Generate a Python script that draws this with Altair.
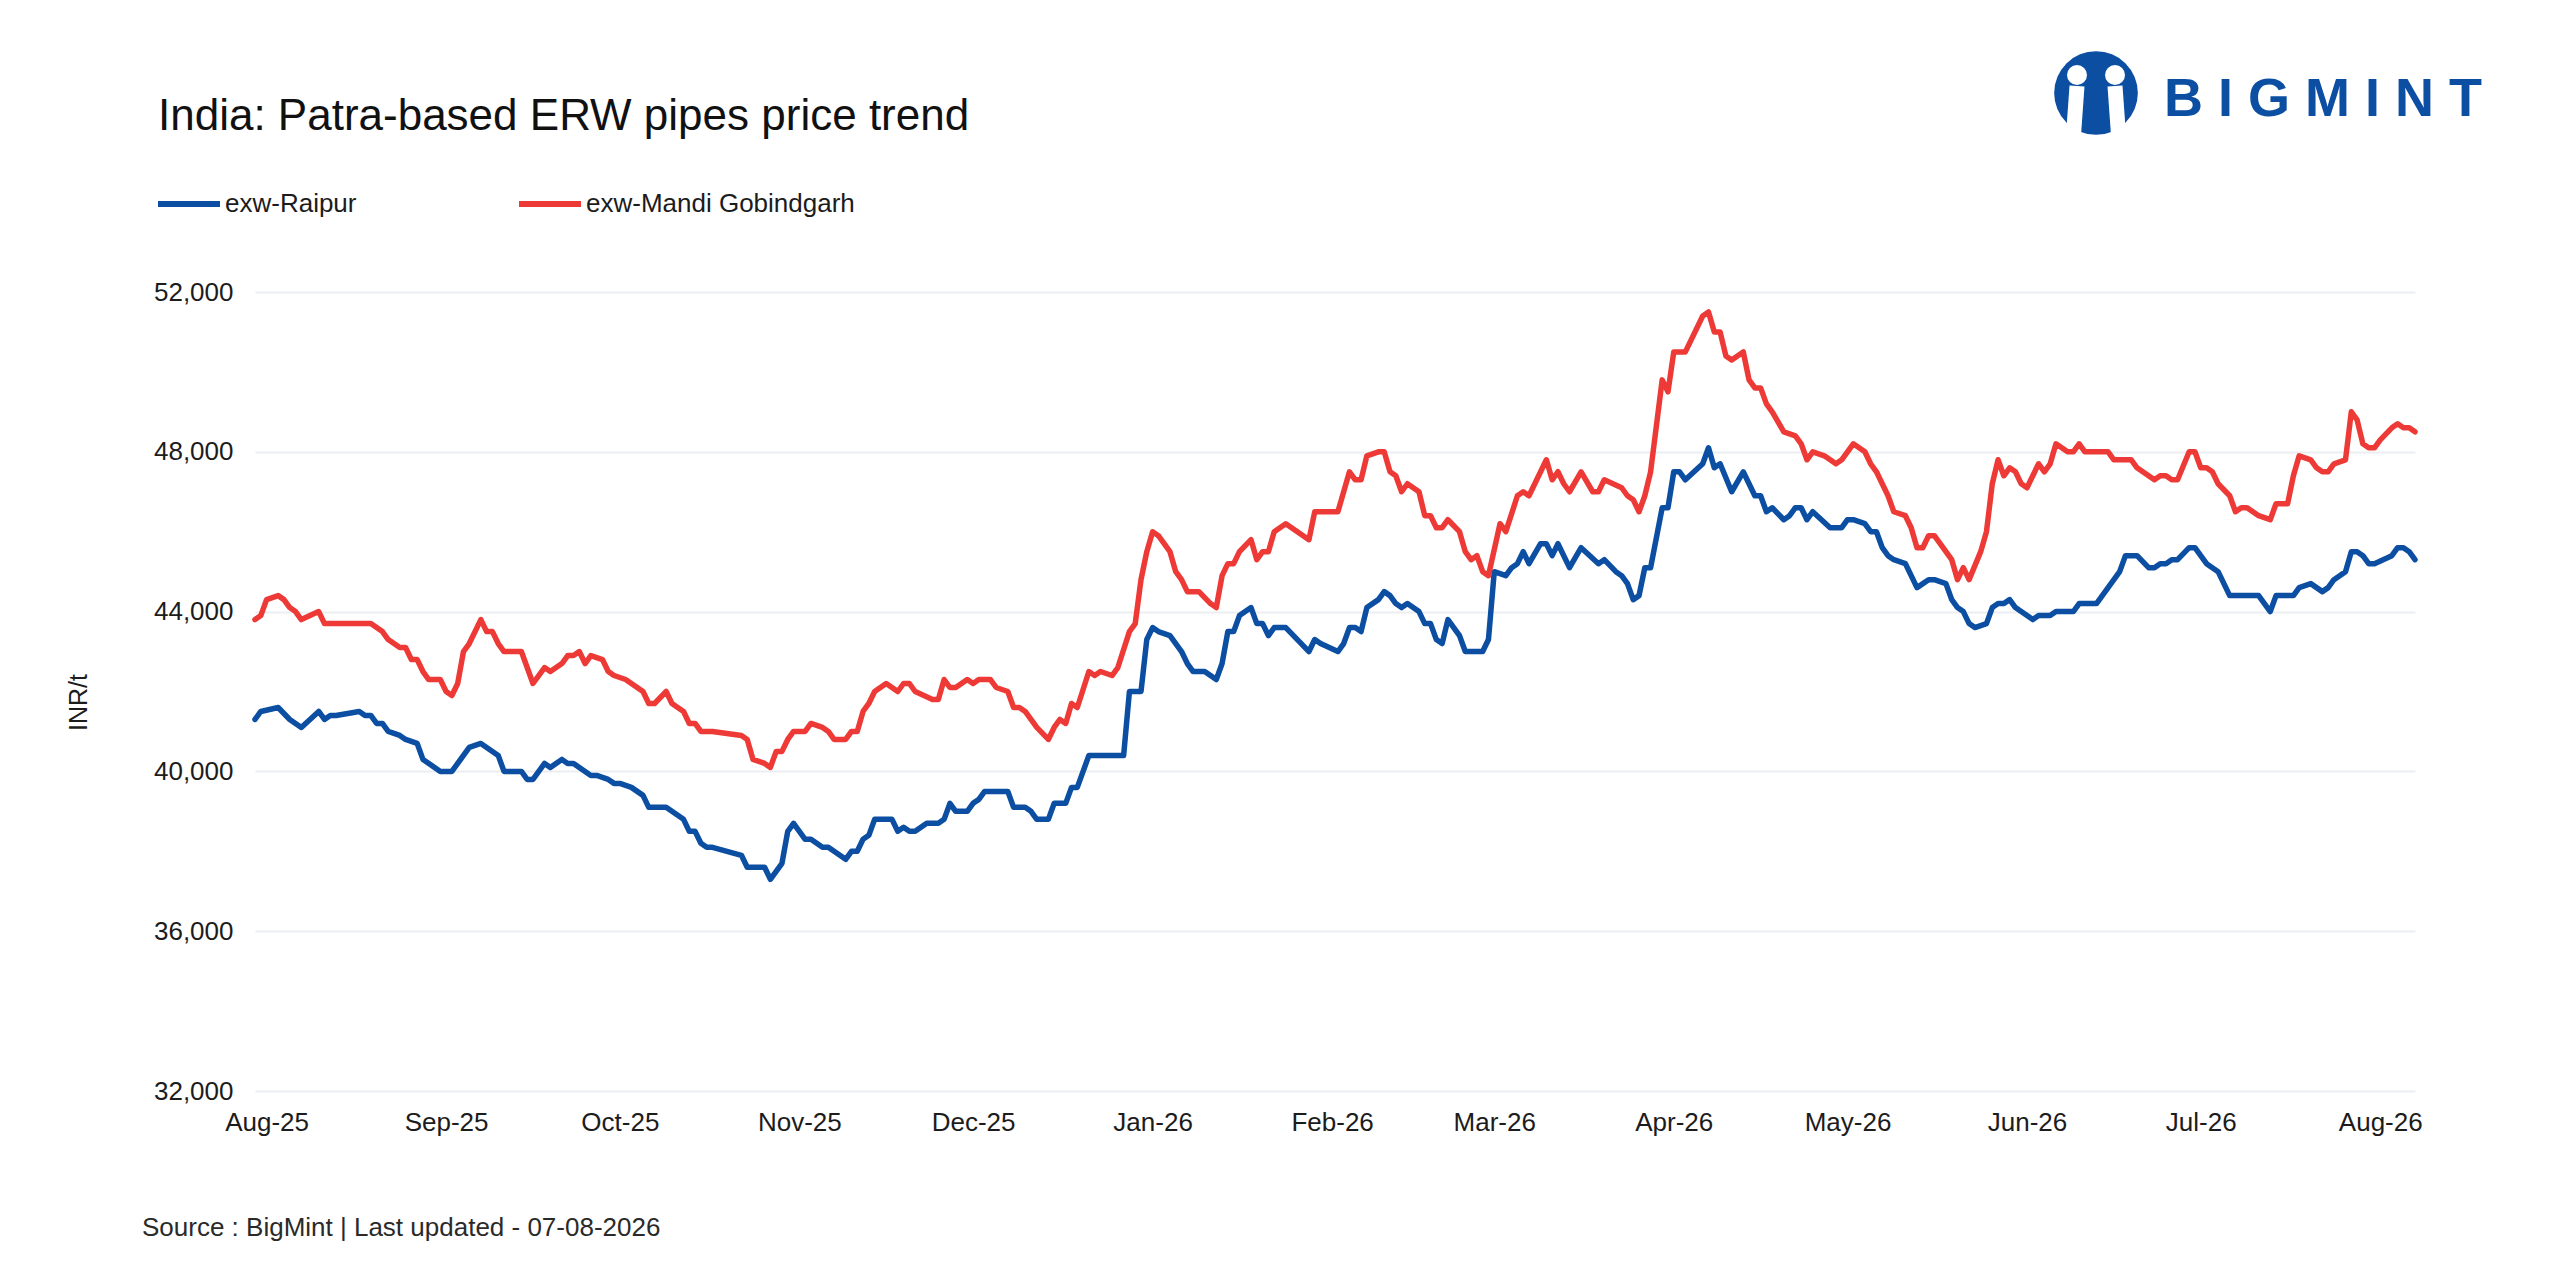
import pandas as pd
import altair as alt

FONT = "Liberation Sans"
BLUE = "#0b4ea2"
RED = "#ee3a36"
INK = "#1c1c1c"

series_names = ["exw-Raipur", "exw-Mandi Gobindgarh"]
series_colors = [BLUE, RED]

raipur_dates = [
    "2025-07-30", "2025-07-31", "2025-08-03", "2025-08-05", "2025-08-07", "2025-08-10", "2025-08-11",
    "2025-08-12", "2025-08-13", "2025-08-17", "2025-08-18", "2025-08-19", "2025-08-20", "2025-08-21",
    "2025-08-22", "2025-08-24", "2025-08-25", "2025-08-27", "2025-08-28", "2025-08-31",
    "2025-09-02", "2025-09-03", "2025-09-05", "2025-09-07", "2025-09-10", "2025-09-11", "2025-09-14",
    "2025-09-15", "2025-09-16", "2025-09-18", "2025-09-19", "2025-09-21", "2025-09-22", "2025-09-23",
    "2025-09-24", "2025-09-26", "2025-09-27", "2025-09-29", "2025-09-30",
    "2025-10-01", "2025-10-03", "2025-10-04", "2025-10-05", "2025-10-06", "2025-10-09", "2025-10-10",
    "2025-10-12", "2025-10-13", "2025-10-14", "2025-10-15", "2025-10-16", "2025-10-17", "2025-10-22",
    "2025-10-23", "2025-10-26", "2025-10-27", "2025-10-29", "2025-10-30", "2025-10-31",
    "2025-11-02", "2025-11-03", "2025-11-05", "2025-11-06", "2025-11-09", "2025-11-10", "2025-11-11",
    "2025-11-12", "2025-11-13", "2025-11-14", "2025-11-17", "2025-11-18", "2025-11-19", "2025-11-20",
    "2025-11-21", "2025-11-23", "2025-11-25", "2025-11-26", "2025-11-27", "2025-11-28", "2025-11-30",
    "2025-12-01", "2025-12-02", "2025-12-03", "2025-12-07", "2025-12-08", "2025-12-10", "2025-12-11",
    "2025-12-12", "2025-12-14", "2025-12-15", "2025-12-17", "2025-12-18", "2025-12-19", "2025-12-21",
    "2025-12-27", "2025-12-28", "2025-12-30", "2025-12-31",
    "2026-01-01", "2026-01-02", "2026-01-04", "2026-01-05", "2026-01-06", "2026-01-07", "2026-01-08",
    "2026-01-10", "2026-01-11", "2026-01-12", "2026-01-13", "2026-01-14", "2026-01-15", "2026-01-16",
    "2026-01-18", "2026-01-19", "2026-01-20", "2026-01-21", "2026-01-22", "2026-01-24", "2026-01-26",
    "2026-01-28", "2026-01-29", "2026-01-30",
    "2026-02-02", "2026-02-03", "2026-02-04", "2026-02-05", "2026-02-06", "2026-02-07", "2026-02-09",
    "2026-02-10", "2026-02-11", "2026-02-12", "2026-02-13", "2026-02-14", "2026-02-16", "2026-02-17",
    "2026-02-18", "2026-02-19", "2026-02-20", "2026-02-21", "2026-02-23", "2026-02-24", "2026-02-27",
    "2026-02-28",
    "2026-03-01", "2026-03-03", "2026-03-04", "2026-03-05", "2026-03-06", "2026-03-07", "2026-03-09",
    "2026-03-10", "2026-03-11", "2026-03-12", "2026-03-14", "2026-03-16", "2026-03-19", "2026-03-20",
    "2026-03-22", "2026-03-23", "2026-03-24", "2026-03-25", "2026-03-26", "2026-03-27", "2026-03-28",
    "2026-03-30", "2026-03-31",
    "2026-04-01", "2026-04-02", "2026-04-03", "2026-04-06", "2026-04-07", "2026-04-08", "2026-04-09",
    "2026-04-11", "2026-04-13", "2026-04-15", "2026-04-16", "2026-04-17", "2026-04-18", "2026-04-20",
    "2026-04-21", "2026-04-22", "2026-04-23", "2026-04-24", "2026-04-25", "2026-04-28", "2026-04-30",
    "2026-05-01", "2026-05-02", "2026-05-04", "2026-05-05", "2026-05-06", "2026-05-07", "2026-05-08",
    "2026-05-09", "2026-05-11", "2026-05-13", "2026-05-15", "2026-05-16", "2026-05-18", "2026-05-19",
    "2026-05-20", "2026-05-21", "2026-05-22", "2026-05-23", "2026-05-25", "2026-05-26", "2026-05-27",
    "2026-05-28", "2026-05-29", "2026-05-30", "2026-05-31",
    "2026-06-02", "2026-06-03", "2026-06-05", "2026-06-06", "2026-06-09", "2026-06-10", "2026-06-13",
    "2026-06-15", "2026-06-16", "2026-06-17", "2026-06-18", "2026-06-20", "2026-06-22", "2026-06-23",
    "2026-06-24", "2026-06-25", "2026-06-26", "2026-06-27", "2026-06-29", "2026-06-30",
    "2026-07-02", "2026-07-04", "2026-07-06", "2026-07-11", "2026-07-13", "2026-07-14", "2026-07-17",
    "2026-07-18", "2026-07-20", "2026-07-22", "2026-07-23", "2026-07-24", "2026-07-26", "2026-07-27",
    "2026-07-28", "2026-07-29", "2026-07-30", "2026-07-31",
    "2026-08-03", "2026-08-04", "2026-08-05", "2026-08-06", "2026-08-07",
]
raipur_prices = [
    41300, 41500, 41600, 41300, 41100, 41500, 41300,
    41400, 41400, 41500, 41400, 41400, 41200, 41200,
    41000, 40900, 40800, 40700, 40300, 40000,
    40000, 40200, 40600, 40700, 40400, 40000, 40000,
    39800, 39800, 40200, 40100, 40300, 40200, 40200,
    40100, 39900, 39900, 39800, 39700,
    39700, 39600, 39500, 39400, 39100, 39100, 39000,
    38800, 38500, 38500, 38200, 38100, 38100, 37900,
    37600, 37600, 37300, 37700, 38500, 38700,
    38300, 38300, 38100, 38100, 37800, 38000, 38000,
    38300, 38400, 38800, 38800, 38500, 38600, 38500,
    38500, 38700, 38700, 38800, 39200, 39000, 39000,
    39200, 39300, 39500, 39500, 39100, 39100, 39000,
    38800, 38800, 39200, 39200, 39600, 39600, 40400,
    40400, 42000, 42000, 43300,
    43600, 43500, 43400, 43200, 43000, 42700, 42500,
    42500, 42400, 42300, 42700, 43500, 43500, 43900,
    44100, 43700, 43700, 43400, 43600, 43600, 43300,
    43000, 43300, 43200,
    43000, 43200, 43600, 43600, 43500, 44100, 44300,
    44500, 44400, 44200, 44100, 44200, 44000, 43700,
    43700, 43300, 43200, 43800, 43400, 43000, 43000,
    43300,
    45000, 44900, 45100, 45200, 45500, 45200, 45700,
    45700, 45400, 45700, 45100, 45600, 45200, 45300,
    45000, 44900, 44700, 44300, 44400, 45100, 45100,
    46600, 46600,
    47500, 47500, 47300, 47700, 48100, 47600, 47700,
    47000, 47500, 46900, 46900, 46500, 46600, 46300,
    46400, 46600, 46600, 46300, 46500, 46100, 46100,
    46300, 46300, 46200, 46000, 46000, 45600, 45400,
    45300, 45200, 44600, 44800, 44800, 44700, 44300,
    44100, 44000, 43700, 43600, 43700, 44100, 44200,
    44200, 44300, 44100, 44000,
    43800, 43900, 43900, 44000, 44000, 44200, 44200,
    44600, 44800, 45000, 45400, 45400, 45100, 45100,
    45200, 45200, 45300, 45300, 45600, 45600,
    45200, 45000, 44400, 44400, 44000, 44400, 44400,
    44600, 44700, 44500, 44600, 44800, 45000, 45500,
    45500, 45400, 45200, 45200,
    45400, 45600, 45600, 45500, 45300,
]

mandi_dates = [
    "2025-07-30", "2025-07-31", "2025-08-01", "2025-08-03", "2025-08-04", "2025-08-05", "2025-08-06",
    "2025-08-07", "2025-08-10", "2025-08-11", "2025-08-19", "2025-08-21", "2025-08-22", "2025-08-24",
    "2025-08-25", "2025-08-26", "2025-08-27", "2025-08-28", "2025-08-29", "2025-08-31",
    "2025-09-01", "2025-09-02", "2025-09-03", "2025-09-04", "2025-09-05", "2025-09-07", "2025-09-08",
    "2025-09-09", "2025-09-10", "2025-09-11", "2025-09-14", "2025-09-16", "2025-09-18", "2025-09-19",
    "2025-09-21", "2025-09-22", "2025-09-23", "2025-09-24", "2025-09-25", "2025-09-26", "2025-09-28",
    "2025-09-29", "2025-09-30",
    "2025-10-02", "2025-10-05", "2025-10-06", "2025-10-07", "2025-10-09", "2025-10-10", "2025-10-12",
    "2025-10-13", "2025-10-14", "2025-10-15", "2025-10-17", "2025-10-22", "2025-10-23", "2025-10-24",
    "2025-10-26", "2025-10-27", "2025-10-28", "2025-10-29", "2025-10-30", "2025-10-31",
    "2025-11-02", "2025-11-03", "2025-11-05", "2025-11-06", "2025-11-07", "2025-11-09", "2025-11-10",
    "2025-11-11", "2025-11-12", "2025-11-13", "2025-11-14", "2025-11-16", "2025-11-18", "2025-11-19",
    "2025-11-20", "2025-11-21", "2025-11-24", "2025-11-25", "2025-11-26", "2025-11-27", "2025-11-28",
    "2025-11-30",
    "2025-12-01", "2025-12-02", "2025-12-04", "2025-12-05", "2025-12-07", "2025-12-08", "2025-12-09",
    "2025-12-10", "2025-12-12", "2025-12-14", "2025-12-15", "2025-12-16", "2025-12-17", "2025-12-18",
    "2025-12-19", "2025-12-21", "2025-12-22", "2025-12-23", "2025-12-25", "2025-12-26", "2025-12-28",
    "2025-12-29", "2025-12-30", "2025-12-31",
    "2026-01-01", "2026-01-02", "2026-01-04", "2026-01-05", "2026-01-06", "2026-01-07", "2026-01-09",
    "2026-01-11", "2026-01-12", "2026-01-13", "2026-01-14", "2026-01-15", "2026-01-16", "2026-01-18",
    "2026-01-19", "2026-01-20", "2026-01-21", "2026-01-22", "2026-01-24", "2026-01-28", "2026-01-29",
    "2026-02-02", "2026-02-04", "2026-02-05", "2026-02-06", "2026-02-07", "2026-02-09", "2026-02-10",
    "2026-02-11", "2026-02-12", "2026-02-13", "2026-02-14", "2026-02-16", "2026-02-17", "2026-02-18",
    "2026-02-19", "2026-02-20", "2026-02-21", "2026-02-23", "2026-02-24", "2026-02-25", "2026-02-26",
    "2026-02-27", "2026-02-28",
    "2026-03-02", "2026-03-03", "2026-03-05", "2026-03-06", "2026-03-07", "2026-03-10", "2026-03-11",
    "2026-03-12", "2026-03-13", "2026-03-14", "2026-03-16", "2026-03-18", "2026-03-19", "2026-03-20",
    "2026-03-23", "2026-03-24", "2026-03-25", "2026-03-26", "2026-03-27", "2026-03-28", "2026-03-30",
    "2026-03-31",
    "2026-04-01", "2026-04-03", "2026-04-06", "2026-04-07", "2026-04-08", "2026-04-09", "2026-04-10",
    "2026-04-11", "2026-04-13", "2026-04-14", "2026-04-15", "2026-04-16", "2026-04-17", "2026-04-18",
    "2026-04-20", "2026-04-22", "2026-04-23", "2026-04-24", "2026-04-25", "2026-04-27", "2026-04-29",
    "2026-04-30",
    "2026-05-02", "2026-05-04", "2026-05-05", "2026-05-06", "2026-05-08", "2026-05-09", "2026-05-11",
    "2026-05-12", "2026-05-13", "2026-05-14", "2026-05-15", "2026-05-16", "2026-05-18", "2026-05-19",
    "2026-05-20", "2026-05-21", "2026-05-22", "2026-05-24", "2026-05-25", "2026-05-26", "2026-05-27",
    "2026-05-28", "2026-05-29", "2026-05-30", "2026-05-31",
    "2026-06-01", "2026-06-02", "2026-06-03", "2026-06-04", "2026-06-05", "2026-06-06", "2026-06-08",
    "2026-06-09", "2026-06-10", "2026-06-11", "2026-06-15", "2026-06-16", "2026-06-19", "2026-06-20",
    "2026-06-23", "2026-06-24", "2026-06-25", "2026-06-26", "2026-06-27", "2026-06-29", "2026-06-30",
    "2026-07-01", "2026-07-02", "2026-07-03", "2026-07-04", "2026-07-06", "2026-07-07", "2026-07-08",
    "2026-07-09", "2026-07-11", "2026-07-13", "2026-07-14", "2026-07-16", "2026-07-17", "2026-07-18",
    "2026-07-20", "2026-07-21", "2026-07-22", "2026-07-23", "2026-07-24", "2026-07-26", "2026-07-27",
    "2026-07-28", "2026-07-29", "2026-07-30", "2026-07-31",
    "2026-08-01", "2026-08-03", "2026-08-04", "2026-08-05", "2026-08-06", "2026-08-07",
]
mandi_prices = [
    43800, 43900, 44300, 44400, 44300, 44100, 44000,
    43800, 44000, 43700, 43700, 43500, 43300, 43100,
    43100, 42800, 42800, 42500, 42300, 42300,
    42000, 41900, 42200, 43000, 43200, 43800, 43500,
    43500, 43200, 43000, 43000, 42200, 42600, 42500,
    42700, 42900, 42900, 43000, 42700, 42900, 42800,
    42500, 42400,
    42300, 42000, 41700, 41700, 42000, 41700, 41500,
    41200, 41200, 41000, 41000, 40900, 40800, 40300,
    40200, 40100, 40500, 40500, 40800, 41000,
    41000, 41200, 41100, 41000, 40800, 40800, 41000,
    41000, 41500, 41700, 42000, 42200, 42000, 42200,
    42200, 42000, 41800, 41800, 42300, 42100, 42100,
    42300,
    42200, 42300, 42300, 42100, 42000, 41600, 41600,
    41500, 41100, 40800, 41100, 41300, 41200, 41700,
    41600, 42500, 42400, 42500, 42400, 42600, 43500,
    43700, 44800, 45500,
    46000, 45900, 45500, 45000, 44800, 44500, 44500,
    44200, 44100, 44900, 45200, 45200, 45500, 45800,
    45300, 45500, 45500, 46000, 46200, 45800, 46500,
    46500, 47500, 47300, 47300, 47900, 48000, 48000,
    47500, 47400, 47000, 47200, 47000, 46400, 46400,
    46100, 46100, 46300, 46000, 45500, 45300, 45400,
    45000, 44900,
    46200, 46000, 46900, 47000, 46900, 47800, 47300,
    47500, 47200, 47000, 47500, 47000, 47000, 47300,
    47100, 46900, 46800, 46500, 46900, 47500, 49800,
    49500,
    50500, 50500, 51400, 51500, 51000, 51000, 50400,
    50300, 50500, 49800, 49600, 49600, 49200, 49000,
    48500, 48400, 48200, 47800, 48000, 47900, 47700,
    47800,
    48200, 48000, 47700, 47500, 46900, 46500, 46400,
    46100, 45600, 45600, 45900, 45900, 45500, 45300,
    44800, 45100, 44800, 45500, 46000, 47200, 47800,
    47400, 47600, 47500, 47200,
    47100, 47400, 47700, 47500, 47700, 48200, 48000,
    48000, 48200, 48000, 48000, 47800, 47800, 47600,
    47300, 47400, 47400, 47300, 47300, 48000, 48000,
    47600, 47600, 47500, 47200, 46900, 46500, 46600,
    46600, 46400, 46300, 46700, 46700, 47400, 47900,
    47800, 47600, 47500, 47500, 47700, 47800, 49000,
    48800, 48200, 48100, 48100,
    48300, 48600, 48700, 48600, 48600, 48500,
]

y_ticks = [32000, 36000, 40000, 44000, 48000, 52000]
month_ticks = [(2025, m) for m in range(8, 13)] + [(2026, m) for m in range(1, 9)]

title_text = "India: Patra-based ERW pipes price trend"
source_text = "Source : BigMint | Last updated - 07-08-2026"
brand_text = "B I G M I N T"

df = pd.concat(
    [
        pd.DataFrame({"date": raipur_dates, "price": raipur_prices, "series": series_names[0]}),
        pd.DataFrame({"date": mandi_dates, "price": mandi_prices, "series": series_names[1]}),
    ],
    ignore_index=True,
)

x_domain = [
    alt.DateTime(year=2025, month=7, date=30, utc=True),
    alt.DateTime(year=2026, month=8, date=7, utc=True),
]
x_values = [alt.DateTime(year=y, month=m, date=1, utc=True) for y, m in month_ticks]

lines = (
    alt.Chart(df)
    .mark_line(strokeWidth=5.5, strokeJoin="round", strokeCap="round")
    .encode(
        x=alt.X(
            "date:T",
            title=None,
            scale=alt.Scale(type="utc", domain=x_domain),
            axis=alt.Axis(values=x_values, labelExpr="utcFormat(datum.value, '%b-%y')", grid=False,
                          labelPadding=18, labelFlush=False),
        ),
        y=alt.Y(
            "price:Q",
            scale=alt.Scale(domain=[32000, 52000], nice=False, zero=False),
            axis=alt.Axis(values=y_ticks, format=",.0f", title="INR/t", labelPadding=22,
                          titleX=-177, titleY=410, titleAlign="center", titleBaseline="middle"),
        ),
        color=alt.Color(
            "series:N",
            sort=series_names,
            scale=alt.Scale(domain=series_names, range=series_colors),
            legend=alt.Legend(
                title=None, orient="none", direction="horizontal", legendX=-100, legendY=-122,
                symbolType="stroke", symbolSize=3844, symbolStrokeWidth=6,
                labelFont=FONT, labelFontSize=26, labelColor=INK, labelOffset=2, labelLimit=500,
                columnPadding=150, padding=0,
            ),
        ),
    )
)

one = pd.DataFrame({"title": [title_text], "source": [source_text], "brand": [brand_text]})

title = alt.Chart(one).mark_text(
    font=FONT, fontSize=44, color="#111111", align="left", baseline="alphabetic"
).encode(x=alt.value(-97), y=alt.value(-162), text="title:N")

source = alt.Chart(one).mark_text(
    font=FONT, fontSize=26, color="#2a2a2a", align="left", baseline="middle"
).encode(x=alt.value(-113), y=alt.value(936), text="source:N")

# BigMint logo, drawn roughly
logo_disc = alt.Chart(one).mark_circle(size=7000, color=BLUE, opacity=1).encode(
    x=alt.value(1841), y=alt.value(-199)
)
logo_body_l = alt.Chart(one).mark_rule(strokeWidth=15, color="white").encode(
    x=alt.value(1822), x2=alt.value(1818), y=alt.value(-206), y2=alt.value(-150)
)
logo_body_r = alt.Chart(one).mark_rule(strokeWidth=15, color="white").encode(
    x=alt.value(1860), x2=alt.value(1864), y=alt.value(-206), y2=alt.value(-150)
)
logo_head_l = alt.Chart(one).mark_circle(size=400, color="white", opacity=1).encode(
    x=alt.value(1822), y=alt.value(-217)
)
logo_head_r = alt.Chart(one).mark_circle(size=400, color="white", opacity=1).encode(
    x=alt.value(1860), y=alt.value(-217)
)
brand = alt.Chart(one).mark_text(
    font=FONT, fontSize=54, fontWeight="bold", color=BLUE, align="left", baseline="middle"
).encode(x=alt.value(1909), y=alt.value(-192), text="brand:N")

chart = (
    alt.layer(lines, title, source, logo_disc, logo_body_l, logo_body_r, logo_head_l, logo_head_r, brand)
    .properties(
        width=2160,
        height=799,
        autosize=alt.AutoSizeParams(type="none"),
        padding={"left": 247, "top": 284, "right": 137, "bottom": 181},
        background="white",
    )
    .configure_view(strokeWidth=0)
    .configure_axis(
        labelFont=FONT,
        labelFontSize=26,
        labelColor=INK,
        titleFont=FONT,
        titleFontSize=25,
        titleColor=INK,
        titleFontWeight="normal",
        domain=False,
        ticks=False,
        gridColor="#eceef2",
        gridWidth=2,
    )
)

chart.save("out.html", embed_options={"renderer": "svg", "actions": False})
